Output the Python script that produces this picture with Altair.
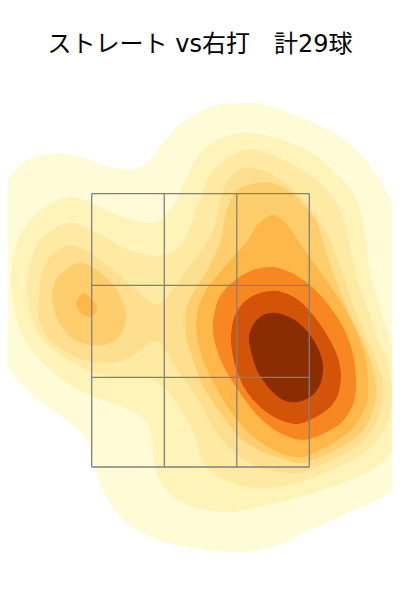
import altair as alt
import pandas as pd

TITLE = "ストレート vs右打　計29球"
LEVEL_COLORS = ["#FFFBD6", "#FEF4B9", "#FEEAA3", "#FEDF8F", "#FECE6C", "#FEB84A", "#F88721", "#D35308", "#8A2D03"]

grid_x = [91.7, 164.3, 236.8, 309.3]
grid_y = [193.7, 285.3, 377.3, 467.0]

# (level, contour x, contour y)
L1 = [(-25,270),(0,195),(10,177),(27,160),(57,153),(83,158),(110,167),(133,169),(147,163),(160,147),(177,127),(200,112),(217,105),(240,103),(267,105),(300,117),(333,132),(360,153),(380,180),(392,203),(408,240),(418,300),(422,370),(415,450),(400,483),(387,495),(367,505),(343,515),(310,530),(283,543),(257,550),(233,552),(200,549),(167,543),(143,533),(123,520),(110,503),(100,483),(93,460),(87,440),(73,425),(50,408),(30,393),(13,373),(0,350)]
L2 = [(11,285),(13,257),(23,230),(40,210),(67,197),(90,202),(117,215),(147,223),(163,218),(177,200),(187,177),(200,153),(217,140),(243,133),(273,137),(307,150),(333,170),(353,193),(363,220),(367,250),(372,280),(382,315),(395,355),(407,395),(400,438),(383,462),(350,480),(300,497),(267,505),(233,512),(200,509),(178,500),(162,485),(154,462),(152,440),(146,422),(132,411),(117,405),(90,395),(67,383),(43,363),(27,343),(17,320)]
L3 = [(27,287),(30,263),(40,240),(57,227),(73,223),(97,233),(123,247),(147,255),(163,255),(180,247),(191,225),(200,200),(213,170),(243,150),(267,153),(293,165),(317,180),(335,200),(346,228),(352,255),(357,280),(367,307),(377,337),(387,360),(391,380),(392,400),(389,418),(378,440),(357,458),(327,472),(300,482),(270,488),(247,487),(220,478),(207,467),(200,452),(192,428),(180,408),(165,389),(150,378),(130,377),(110,377),(87,370),(63,357),(43,340),(32,320)]
L4 = [(39,297),(43,270),(53,253),(70,245),(90,253),(113,270),(133,287),(147,300),(157,305),(167,297),(178,283),(190,265),(205,245),(215,225),(220,203),(227,182),(243,168),(267,172),(290,187),(310,207),(327,233),(337,258),(345,280),(355,310),(370,345),(382,377),(383,397),(379,417),(367,437),(350,451),(323,464),(300,473),(272,471),(250,463),(230,448),(213,428),(203,408),(188,385),(173,363),(163,347),(157,341),(150,343),(137,353),(117,362),(93,362),(67,353),(50,340),(39,320)]
L5a = [(52,297),(58,277),(78,263),(97,270),(117,290),(126,313),(124,328),(116,340),(103,345),(90,345),(70,337),(58,320)]
L5b = [(185,320),(188,303),(197,287),(210,265),(221,240),(226,213),(237,190),(263,182),(283,187),(300,200),(317,223),(327,255),(336,280),(350,315),(365,345),(375,377),(376,397),(372,414),(362,432),(343,446),(320,457),(300,463),(280,458),(260,451),(240,438),(227,422),(213,402),(202,385),(194,362),(187,340)]
L6a = [(76,303),(83,293),(93,300),(97,310),(90,317),(80,312)]
L6b = [(197,337),(197,313),(206,290),(222,270),(237,253),(248,240),(258,224),(272,215),(285,222),(298,240),(312,260),(326,280),(341,302),(355,328),(365,355),(368,380),(367,402),(354,427),(333,443),(318,451),(303,457),(285,455),(268,447),(250,434),(234,416),(222,398),(212,380),(203,360)]
L7 = [(213,322),(219,298),(234,281),(253,270),(273,267),(292,273),(311,286),(327,303),(342,325),(352,350),(356,377),(354,402),(342,422),(323,434),(302,440),(280,433),(260,418),(240,393),(224,367),(215,343)]
L8 = [(231,340),(234,318),(244,302),(260,293),(278,291),(297,299),(313,315),(327,335),(337,355),(341,375),(338,395),(329,408),(314,418),(297,424),(278,419),(260,407),(245,389),(235,365)]
L9 = [(249,340),(253,325),(263,315),(277,313),(293,319),(307,331),(318,348),(323,365),(321,382),(313,395),(298,402),(283,400),(268,387),(256,368)]

contours = [("L1", "a", L1), ("L2", "a", L2), ("L3", "a", L3), ("L4", "a", L4), ("L5", "a", L5a), ("L5", "b", L5b),
            ("L6", "a", L6a), ("L6", "b", L6b), ("L7", "a", L7), ("L8", "a", L8), ("L9", "a", L9)]

rows = []
for lv, part, pts in contours:
    for i, (x, y) in enumerate(pts):
        rows.append({"level": lv, "shape": lv + part, "seq": i, "x": x, "y": y})
df = pd.DataFrame(rows)

xs = alt.Scale(domain=[8, 392])
ys = alt.Scale(domain=[70, 560], reverse=True)
levels = ["L1", "L2", "L3", "L4", "L5", "L6", "L7", "L8", "L9"]

layers = []
for lv, part, pts in contours:
    sub = df[(df["shape"] == lv + part)]
    layers.append(
        alt.Chart(sub).mark_line(interpolate="cardinal-closed", tension=0.15, filled=True, strokeWidth=0, clip=True).encode(
            x=alt.X("x:Q", scale=xs, axis=None),
            y=alt.Y("y:Q", scale=ys, axis=None),
            order=alt.Order("seq:Q"),
            color=alt.Color("level:N", scale=alt.Scale(domain=levels, range=LEVEL_COLORS), legend=None),
        )
    )

v = pd.DataFrame({"x": grid_x, "y": [grid_y[0]] * 4, "y2": [grid_y[-1]] * 4})
h = pd.DataFrame({"y": grid_y, "x": [grid_x[0]] * 4, "x2": [grid_x[-1]] * 4})
vr = alt.Chart(v).mark_rule(color="#808080", strokeWidth=1.3).encode(
    x=alt.X("x:Q", scale=xs, axis=None), y=alt.Y("y:Q", scale=ys, axis=None), y2="y2:Q")
hr = alt.Chart(h).mark_rule(color="#808080", strokeWidth=1.3).encode(
    y=alt.Y("y:Q", scale=ys, axis=None), x=alt.X("x:Q", scale=xs, axis=None), x2="x2:Q")

chart = alt.layer(*layers, vr, hr).properties(
    width=384,
    height=490,
    padding={"left": 0, "top": 25, "right": 0, "bottom": 0},
    title=alt.TitleParams(TITLE, font="DejaVu Sans, Noto Sans CJK JP", fontSize=24, fontWeight="normal", color="black",
                          anchor="middle", dx=0, offset=13),
).resolve_scale(color="shared").configure_view(stroke=None)

chart.save("out.html", embed_options={"renderer": "svg", "actions": False})
